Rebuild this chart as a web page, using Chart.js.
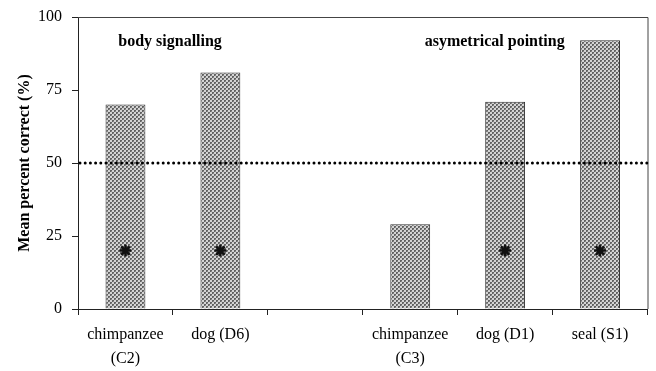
<!DOCTYPE html>
<html>
<head>
<meta charset="utf-8">
<script src="https://cdn.jsdelivr.net/npm/chart.js@4.4.1/dist/chart.umd.min.js"></script>
<style>
  html, body { margin: 0; padding: 0; background: #fff; }
  #wrap { width: 656px; height: 371px; }
</style>
</head>
<body>
<div id="wrap"><canvas id="chart" width="656" height="371"></canvas></div>
<script>
// Pointing-comprehension results per subject
const categories = [['chimpanzee', '(C2)'], 'dog (D6)', '', ['chimpanzee', '(C3)'], 'dog (D1)', 'seal (S1)'];
const meanCorrect = [70, 81, null, 29, 71, 92];
const significant = [true, true, false, false, true, true];
const yTicks = [0, 25, 50, 75, 100];
const chanceLevel = 50;
const groupLabels = ['body signalling', 'asymetrical pointing'];

const SERIF = "'Liberation Serif', 'Times New Roman', serif";
const ASTERISK_LEVEL = 20;

// Checkerboard texture (2px cells) for the bars
function makeTexture() {
  const c = document.createElement('canvas');
  c.width = 4; c.height = 4;
  const g = c.getContext('2d');
  g.fillStyle = '#d4d4d4';
  g.fillRect(0, 0, 4, 4);
  g.fillStyle = '#626262';
  g.fillRect(0, 0, 2, 2);
  g.fillRect(2, 2, 2, 2);
  g.fillStyle = '#8a8a8a';
  g.fillRect(1, 1, 1, 1);
  g.fillRect(3, 3, 1, 1);
  return g.createPattern(c, 'repeat');
}

// Chance line, frame and group captions
const decorations = {
  id: 'decorations',
  beforeDatasetsDraw(chart) {
    const { ctx, chartArea: a } = chart;
    ctx.save();
    ctx.strokeStyle = '#444';
    ctx.lineWidth = 1;
    ctx.beginPath();
    ctx.moveTo(a.left, a.top + 0.5);
    ctx.lineTo(a.right + 0.5, a.top + 0.5);
    ctx.lineTo(a.right + 0.5, a.bottom);
    ctx.stroke();
    ctx.restore();
  },
  afterDatasetsDraw(chart) {
    const { ctx, chartArea: a, scales: { x, y } } = chart;
    ctx.save();
    const yc = Math.round(y.getPixelForValue(chanceLevel));
    ctx.strokeStyle = '#000';
    ctx.lineWidth = 3;
    ctx.lineCap = 'round';
    ctx.setLineDash([0, 5.2]);
    ctx.beginPath();
    ctx.moveTo(a.left + 2, yc);
    ctx.lineTo(a.right, yc);
    ctx.stroke();
    ctx.setLineDash([]);

    ctx.fillStyle = '#000';
    ctx.font = 'bold 16px ' + SERIF;
    ctx.textAlign = 'center';
    ctx.textBaseline = 'middle';
    const capY = y.getPixelForValue(91.5);
    ctx.fillText(groupLabels[0], x.getPixelForValue(0.47), capY);
    ctx.fillText(groupLabels[1], x.getPixelForValue(3.89), capY);
    ctx.restore();
  }
};

new Chart(document.getElementById('chart'), {
  type: 'bar',
  data: {
    labels: categories,
    datasets: [
      {
        type: 'line',
        data: significant.map(s => s ? ASTERISK_LEVEL : null),
        showLine: false,
        pointStyle: 'star',
        pointRadius: 6,
        pointBorderWidth: 2.5,
        pointBorderColor: '#111',
        pointBackgroundColor: '#111',
        order: 0
      },
      {
        data: meanCorrect,
        backgroundColor: makeTexture(),
        borderColor: '#333',
        borderWidth: 1,
        borderSkipped: 'bottom',
        barPercentage: 0.42,
        categoryPercentage: 1.0,
        order: 1
      }
    ]
  },
  options: {
    responsive: false,
    animation: false,
    devicePixelRatio: 1,
    layout: { padding: { top: 17, right: 3, left: 8, bottom: 0 } },
    plugins: { legend: { display: false }, tooltip: { enabled: false } },
    scales: {
      x: {
        offset: true,
        afterFit(scale) { scale.height = 62; scale.paddingLeft = 0; scale.paddingRight = 0; },
        grid: {
          offset: true,
          drawOnChartArea: false,
          drawTicks: true,
          tickLength: 6,
          color: '#222'
        },
        border: { display: true, color: '#222', width: 1 },
        ticks: {
          color: '#000',
          font: { family: SERIF, size: 16, lineHeight: 1.5 },
          padding: 8,
          maxRotation: 0,
          autoSkip: false
        }
      },
      y: {
        min: 0,
        max: 100,
        afterBuildTicks(scale) { scale.ticks = yTicks.map(v => ({ value: v })); },
        afterFit(scale) { scale.width = 70; scale.paddingTop = 0; scale.paddingBottom = 0; },
        grid: {
          drawOnChartArea: false,
          drawTicks: true,
          tickLength: 6,
          color: '#222'
        },
        border: { display: true, color: '#222', width: 1 },
        ticks: {
          color: '#000',
          font: { family: SERIF, size: 16 },
          padding: 10
        },
        title: {
          display: true,
          text: 'Mean percent correct (%)',
          color: '#000',
          font: { family: SERIF, size: 16, weight: 'bold' },
          padding: { top: 7, bottom: 2 }
        }
      }
    }
  },
  plugins: [decorations]
});
</script>
</body>
</html>
